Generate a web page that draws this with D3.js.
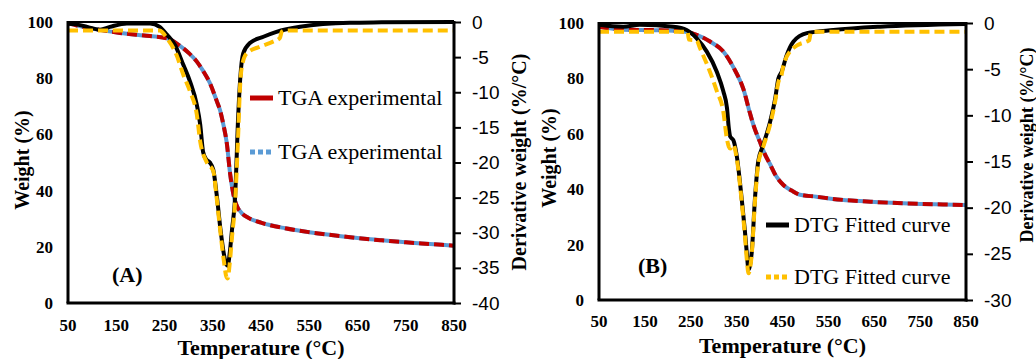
<!DOCTYPE html>
<html>
<head>
<meta charset="utf-8">
<script src="https://cdn.jsdelivr.net/npm/d3@7"></script>
<style>
  body { margin: 0; background: #fff; }
  svg { display: block; font-family: "Liberation Serif", "Times New Roman", serif; }
  .tick-left, .tick-x { font-weight: bold; font-size: 17px; }
  .tick-right { font-size: 19px; }
  .axis-title { font-weight: bold; }
  .legend-text { font-size: 22px; }
</style>
</head>
<body>
<div id="chart"></div>
<script>
// shared ticks
const tempTicks = [50, 150, 250, 350, 450, 550, 650, 750, 850];
const weightTicks = [0, 20, 40, 60, 80, 100];
const derivTicksA = [0, -5, -10, -15, -20, -25, -30, -35, -40];
const derivTicksB = [0, -5, -10, -15, -20, -25, -30];

// panel A - TGA (experimental and fitted overlap)
const tgaTempA = [50, 80, 116, 158, 220, 255, 282, 300, 317, 330, 344, 358, 365, 372, 379, 386, 393, 400, 410, 425, 450, 500, 550, 600, 650, 700, 750, 800, 850];
const tgaWeightA = [99.5, 98.3, 97.2, 96.1, 95.0, 94.2, 91.5, 89.0, 85.9, 82.6, 78.3, 72.0, 68.7, 63.5, 57.0, 46.0, 38.5, 34.5, 32.0, 30.2, 28.6, 26.6, 25.2, 24.1, 23.1, 22.3, 21.6, 21.0, 20.4];

// panel A - DTG experimental (black)
const dtgTempA = [50, 62, 75, 95, 116, 137, 172, 220, 240, 255, 272, 289, 303, 317, 324, 330, 337, 344, 351, 358, 366, 373, 378, 381, 385, 390, 396, 403, 407, 413, 427, 455, 482, 531, 634, 700, 850];
const dtgA = [-0.2, -0.3, -0.45, -0.8, -1.1, -0.7, -0.2, -0.2, -0.7, -1.8, -3.3, -6.1, -8.5, -11.8, -14.6, -18.5, -19.6, -20.0, -21.0, -24.5, -29.5, -33.0, -34.5, -34.7, -33.0, -29.5, -25.3, -13.0, -8.0, -4.5, -3.0, -2.1, -1.4, -0.67, -0.1, -0.05, 0];

// panel A - DTG fitted (yellow)
const fitTempA = [50, 240, 246, 255, 275, 289, 303, 317, 324, 337, 351, 358, 366, 373, 378, 381, 385, 390, 396, 403, 406, 410, 420, 448, 475, 489, 493, 500, 850];
const fitA = [-1.2, -1.2, -1.5, -2.3, -4.7, -7.5, -9.9, -13.2, -17.0, -19.9, -21.2, -25.0, -30.0, -34.0, -36.2, -36.5, -34.5, -30.5, -26.0, -15.5, -10.0, -6.5, -4.5, -3.5, -2.8, -2.3, -1.4, -1.2, -1.2];

// panel B - TGA
const tgaTempB = [50, 103, 176, 234, 263, 292, 321, 343, 365, 379, 386, 401, 412, 423, 435, 452, 470, 488, 524, 560, 600, 650, 700, 750, 800, 850];
const tgaWeightB = [98.6, 97.6, 97.4, 96.9, 95.7, 93.3, 89.7, 84.0, 76.0, 67.5, 63.5, 57.0, 52.5, 49.0, 45.0, 41.5, 39.5, 38.0, 37.3, 36.5, 35.9, 35.4, 35.0, 34.7, 34.5, 34.3];

// panel B - DTG experimental (black)
const dtgTempB = [50, 80, 103, 139, 212, 241, 263, 285, 307, 321, 329, 333, 336, 343, 350, 361, 368, 372, 376, 379, 383, 390, 397, 408, 423, 434, 441, 448, 459, 474, 503, 561, 663, 850];
const dtgB = [-0.2, -0.35, -0.4, -0.2, -0.4, -0.76, -1.66, -3.1, -5.3, -7.4, -9.2, -11.4, -12.3, -12.7, -14.3, -19.0, -22.5, -24.8, -26.7, -26.3, -24.8, -19.0, -15.0, -13.2, -10.7, -8.2, -6.0, -5.3, -3.5, -2.0, -1.1, -0.76, -0.4, -0.1];

// panel B - DTG fitted (yellow)
const fitTempB = [50, 243, 246, 263, 270, 292, 307, 321, 329, 333, 336, 343, 350, 361, 368, 372, 376, 379, 383, 390, 397, 408, 423, 434, 441, 448, 452, 474, 503, 508, 512, 520, 850];
const fitB = [-0.94, -0.94, -1.8, -1.9, -2.7, -5.3, -7.4, -9.6, -12.6, -13.4, -13.6, -13.2, -14.6, -19.3, -23.0, -25.5, -27.1, -26.7, -25.0, -19.3, -15.3, -13.4, -11.0, -8.5, -6.4, -5.6, -4.6, -2.7, -2.0, -1.9, -1.0, -0.94, -0.94];

const RED = '#C00000', BLUE = '#5B9BD5', YELLOW = '#FFC000';

const svg = d3.select('#chart').append('svg')
    .attr('width', 1036)
    .attr('height', 359);

svg.append('rect').attr('width', 1036).attr('height', 359).attr('fill', '#fff');

const zip = (xs, ys) => xs.map((x, i) => [x, ys[i]]);

function drawPanel(p) {
  const x = d3.scaleLinear().domain([50, 850]).range([p.left, p.right]);
  const yL = d3.scaleLinear().domain([0, 100]).range([p.bottom, p.top]);
  const yR = d3.scaleLinear().domain([p.derivMin, 0]).range([p.bottom, p.top]);

  const g = svg.append('g');

  // curves
  const lineL = d3.line().x(d => x(d[0])).y(d => yL(d[1])).curve(d3.curveMonotoneX);
  const lineR = d3.line().x(d => x(d[0])).y(d => yR(d[1])).curve(d3.curveMonotoneX);

  g.append('path').datum(zip(p.tgaTemp, p.tgaWeight))
      .attr('d', lineL).attr('fill', 'none')
      .attr('stroke', BLUE).attr('stroke-width', 4);
  g.append('path').datum(zip(p.tgaTemp, p.tgaWeight))
      .attr('d', lineL).attr('fill', 'none')
      .attr('stroke', RED).attr('stroke-width', 4)
      .attr('stroke-dasharray', '10,5');

  g.append('path').datum(zip(p.dtgTemp, p.dtg))
      .attr('d', lineR).attr('fill', 'none')
      .attr('stroke', '#000').attr('stroke-width', 4)
      .attr('stroke-linejoin', 'round');
  g.append('path').datum(zip(p.fitTemp, p.fit))
      .attr('d', lineR).attr('fill', 'none')
      .attr('stroke', YELLOW).attr('stroke-width', 4)
      .attr('stroke-dasharray', '10,5');

  // frame
  g.append('line').attr('x1', p.left).attr('x2', p.right)
      .attr('y1', p.top).attr('y2', p.top)
      .attr('stroke', '#000').attr('stroke-width', 2);
  g.append('line').attr('x1', p.left - 1.5).attr('x2', p.right + 1.5)
      .attr('y1', p.bottom).attr('y2', p.bottom)
      .attr('stroke', '#000').attr('stroke-width', 3);
  g.append('line').attr('x1', p.left).attr('x2', p.left)
      .attr('y1', p.top - 1).attr('y2', p.bottom)
      .attr('stroke', '#000').attr('stroke-width', 3);

  // right axis with outward ticks
  const axR = g.append('g').attr('transform', `translate(${p.right},0)`)
      .call(d3.axisRight(yR).tickValues(p.derivTicks).tickSize(7).tickPadding(11)
        .tickFormat(d => d === 0 ? '0' : '-' + Math.abs(d)));
  axR.select('.domain').attr('stroke-width', 3).attr('d', `M0,${p.top - 1}V${p.bottom + 1.5}`);
  axR.selectAll('.tick line').attr('stroke-width', 2);
  axR.selectAll('.tick text').attr('class', 'tick-right').attr('font-family', null).attr('font-size', null);

  // left tick labels (no tick marks)
  g.selectAll('.wl').data(weightTicks).join('text')
      .attr('class', 'tick-left')
      .attr('x', p.left - 15).attr('y', d => yL(d)).attr('dy', '.35em')
      .attr('text-anchor', 'end').text(d => d);

  // x tick labels
  g.selectAll('.xl').data(tempTicks).join('text')
      .attr('class', 'tick-x')
      .attr('x', d => x(d)).attr('y', p.xTickY)
      .attr('text-anchor', 'middle').text(d => d);

  // titles
  g.append('text').attr('class', 'axis-title')
      .attr('x', (p.left + p.right) / 2).attr('y', p.xTitleY)
      .attr('text-anchor', 'middle').attr('font-size', 22)
      .text('Temperature (°C)');
  g.append('text').attr('class', 'axis-title')
      .attr('transform', `translate(${p.leftTitleX},${p.leftTitleY}) rotate(-90)`)
      .attr('text-anchor', 'middle').attr('dy', '.35em').attr('font-size', 20)
      .text('Weight (%)');
  g.append('text').attr('class', 'axis-title')
      .attr('transform', `translate(${p.rightTitleX},${p.rightTitleY}) rotate(-90)`)
      .attr('text-anchor', 'middle').attr('dy', '.35em').attr('font-size', p.rightTitleSize)
      .text('Derivative weight (%/°C)');

  // panel label
  g.append('text').attr('class', 'axis-title')
      .attr('x', p.labelX).attr('y', p.labelY).attr('font-size', 22)
      .text(p.label);

  // legend
  const lg = g.append('g');
  p.legend.forEach((e, i) => {
    const yy = p.legendY[i];
    lg.append('line').attr('x1', p.legendX).attr('x2', p.legendX + 23)
        .attr('y1', yy).attr('y2', yy)
        .attr('stroke', e.color).attr('stroke-width', 5)
        .attr('stroke-dasharray', e.dash);
    lg.append('text').attr('class', 'legend-text')
        .attr('x', p.legendX + 28).attr('y', yy).attr('dy', '.33em')
        .text(e.name);
  });
}

drawPanel({
  left: 68, right: 454, top: 22, bottom: 303, derivMin: -40,
  derivTicks: derivTicksA,
  tgaTemp: tgaTempA, tgaWeight: tgaWeightA,
  dtgTemp: dtgTempA, dtg: dtgA, fitTemp: fitTempA, fit: fitA,
  xTickY: 331, xTitleY: 355,
  leftTitleX: 22, leftTitleY: 160,
  rightTitleX: 519, rightTitleY: 162, rightTitleSize: 20,
  label: '(A)', labelX: 112, labelY: 282,
  legendX: 250, legendY: [98, 152],
  legend: [
    {name: 'TGA experimental', color: RED, dash: null},
    {name: 'TGA experimental', color: BLUE, dash: '5,3'}
  ]
});

drawPanel({
  left: 599, right: 966, top: 23, bottom: 300, derivMin: -30,
  derivTicks: derivTicksB,
  tgaTemp: tgaTempB, tgaWeight: tgaWeightB,
  dtgTemp: dtgTempB, dtg: dtgB, fitTemp: fitTempB, fit: fitB,
  xTickY: 327, xTitleY: 353,
  leftTitleX: 549, leftTitleY: 158,
  rightTitleX: 1027, rightTitleY: 145, rightTitleSize: 18,
  label: '(B)', labelX: 638, labelY: 273,
  legendX: 766, legendY: [225, 277],
  legend: [
    {name: 'DTG Fitted curve', color: '#000', dash: null},
    {name: 'DTG Fitted curve', color: YELLOW, dash: '5,3'}
  ]
});
</script>
</body>
</html>
